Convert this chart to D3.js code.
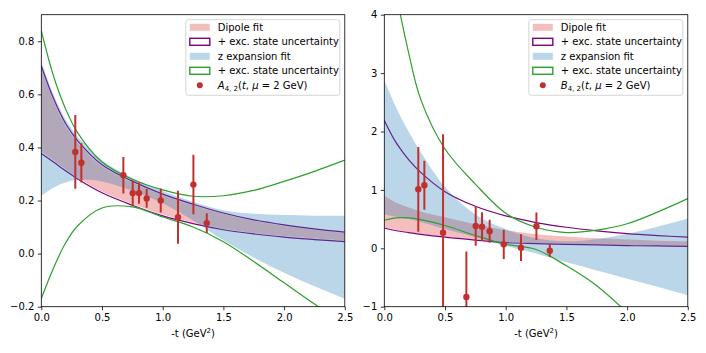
<!DOCTYPE html>
<html>
<head>
<meta charset="utf-8">
<script src="https://cdn.jsdelivr.net/npm/d3@7"></script>
<style>
body { margin: 0; background: #fff; }
svg { display: block; font-family: "DejaVu Sans", sans-serif; }
</style>
</head>
<body>
<svg id="chart" width="706" height="353"></svg>
<script>
// -t grid the fit curves were read at
const tGrid = [0, 0.1, 0.2, 0.3, 0.5, 0.75, 1.0, 1.25, 1.5, 1.75, 2.0, 2.25, 2.5];

// A_{4,2} fits
const aDipoleLo    = [0.385, 0.352, 0.318, 0.287, 0.234, 0.187, 0.147, 0.117, 0.094, 0.078, 0.066, 0.057, 0.049];
const aDipoleHi    = [0.695, 0.575, 0.482, 0.418, 0.329, 0.268, 0.220, 0.182, 0.150, 0.124, 0.105, 0.090, 0.078];
const aDipoleExcLo = [0.377, 0.345, 0.312, 0.281, 0.229, 0.182, 0.142, 0.113, 0.090, 0.074, 0.062, 0.053, 0.045];
const aDipoleExcHi = [0.707, 0.585, 0.490, 0.425, 0.335, 0.273, 0.224, 0.186, 0.153, 0.127, 0.108, 0.093, 0.081];
const aZLo         = [0.217, 0.248, 0.268, 0.277, 0.272, 0.237, 0.190, 0.125, 0.050, -0.015, -0.072, -0.123, -0.170];
const aZHi         = [0.725, 0.600, 0.505, 0.440, 0.352, 0.285, 0.236, 0.195, 0.163, 0.150, 0.145, 0.143, 0.143];
const aZExcLo      = [-0.169, -0.055, 0.040, 0.105, 0.172, 0.176, 0.138, 0.100, 0.045, -0.030, -0.110, -0.190, -0.270];
const aZExcHi      = [0.840, 0.670, 0.545, 0.455, 0.345, 0.280, 0.240, 0.216, 0.218, 0.238, 0.272, 0.310, 0.352];

// A_{4,2} lattice points
const aT   = [0.280, 0.330, 0.676, 0.753, 0.805, 0.868, 0.984, 1.126, 1.253, 1.363];
const aVal = [0.383, 0.342, 0.295, 0.228, 0.228, 0.208, 0.200, 0.137, 0.260, 0.115];
const aErr = [0.139, 0.074, 0.069, 0.047, 0.040, 0.035, 0.045, 0.100, 0.112, 0.037];

// B_{4,2} fits
const bDipoleLo    = [0.360, 0.315, 0.280, 0.250, 0.200, 0.150, 0.110, 0.090, 0.077, 0.066, 0.056, 0.050, 0.045];
const bDipoleHi    = [0.900, 0.780, 0.700, 0.630, 0.530, 0.410, 0.310, 0.240, 0.200, 0.170, 0.150, 0.130, 0.120];
const bDipoleExcLo = [0.348, 0.300, 0.270, 0.240, 0.190, 0.140, 0.097, 0.080, 0.068, 0.057, 0.046, 0.040, 0.034];
const bDipoleExcHi = [2.19, 1.80, 1.52, 1.30, 0.97, 0.72, 0.555, 0.44, 0.36, 0.30, 0.252, 0.218, 0.19];
const bZLo         = [0.58, 0.54, 0.50, 0.45, 0.33, 0.19, 0.04, -0.09, -0.24, -0.38, -0.52, -0.66, -0.805];
const bZHi         = [2.88, 2.40, 2.00, 1.65, 1.05, 0.58, 0.33, 0.17, 0.12, 0.16, 0.25, 0.37, 0.51];
const bZExcLo      = [0.48, 0.52, 0.52, 0.49, 0.39, 0.22, 0.07, -0.02, -0.30, -0.64, -1.10, -1.60, -2.10];
const bZExcHi      = [5.6, 4.35, 3.35, 2.55, 1.70, 1.10, 0.60, 0.36, 0.27, 0.31, 0.42, 0.62, 0.85];

// B_{4,2} lattice points
const bT   = [0.280, 0.330, 0.484, 0.676, 0.753, 0.805, 0.868, 0.984, 1.126, 1.253, 1.363];
const bVal = [1.010, 1.079, 0.268, -0.833, 0.382, 0.371, 0.291, 0.068, 0.011, 0.377, -0.040];
const bErr = [0.725, 0.420, 1.684, 0.780, 0.340, 0.245, 0.197, 0.250, 0.228, 0.234, 0.110];

// tick labels
const xTicks = [0, 0.5, 1.0, 1.5, 2.0, 2.5];
const aYTicks = [-0.2, 0, 0.2, 0.4, 0.6, 0.8];
const bYTicks = [-1, 0, 1, 2, 3, 4];
const legendLabels = ['Dipole fit', '+ exc. state uncertainty', 'z expansion fit', '+ exc. state uncertainty'];

const pinkFill = 'rgba(214,39,40,0.3)';
const blueFill = 'rgba(31,119,180,0.3)';
const purple = '#800080';
const green = '#2ca02c';
const red = '#c0302e';

const svg = d3.select('#chart');
const axTop = 14.7, axBottom = 306.7, axW = 303.5;

function rows(lo, hi) {
  return tGrid.map((t, i) => ({t, lo: lo[i], hi: hi[i]}));
}

function panel(p) {
  const x = d3.scaleLinear().domain([0, 2.5]).range([p.left, p.left + axW]);
  const y = d3.scaleLinear().domain(p.yDomain).range([axBottom, axTop]);
  const g = svg.append('g');

  g.append('clipPath').attr('id', 'clip' + p.id)
    .append('rect')
    .attr('x', p.left).attr('y', axTop)
    .attr('width', axW).attr('height', axBottom - axTop);
  const plot = g.append('g').attr('clip-path', `url(#clip${p.id})`);

  const area = d3.area()
    .x(d => x(d.t)).y0(d => y(d.lo)).y1(d => y(d.hi))
    .curve(d3.curveCatmullRom);
  const loLine = d3.line().x(d => x(d.t)).y(d => y(d.lo)).curve(d3.curveCatmullRom);
  const hiLine = d3.line().x(d => x(d.t)).y(d => y(d.hi)).curve(d3.curveCatmullRom);

  plot.append('path').datum(rows(p.dipLo, p.dipHi)).attr('d', area).attr('fill', pinkFill);
  const exc = rows(p.dipExcLo, p.dipExcHi);
  plot.append('path').datum(exc).attr('d', loLine).attr('fill', 'none').attr('stroke', purple).attr('stroke-width', 1.2);
  plot.append('path').datum(exc).attr('d', hiLine).attr('fill', 'none').attr('stroke', purple).attr('stroke-width', 1.2);

  plot.append('path').datum(rows(p.zLo, p.zHi)).attr('d', area).attr('fill', blueFill);
  const zexc = rows(p.zExcLo, p.zExcHi);
  plot.append('path').datum(zexc).attr('d', loLine).attr('fill', 'none').attr('stroke', green).attr('stroke-width', 1.2);
  plot.append('path').datum(zexc).attr('d', hiLine).attr('fill', 'none').attr('stroke', green).attr('stroke-width', 1.2);

  const pts = p.ts.map((t, i) => ({t, v: p.vals[i], e: p.errs[i]}));
  plot.selectAll('line.err').data(pts).join('line')
    .attr('class', 'err')
    .attr('x1', d => x(d.t)).attr('x2', d => x(d.t))
    .attr('y1', d => y(d.v - d.e)).attr('y2', d => y(d.v + d.e))
    .attr('stroke', red).attr('stroke-width', 2);
  plot.selectAll('circle').data(pts).join('circle')
    .attr('cx', d => x(d.t)).attr('cy', d => y(d.v)).attr('r', 3.2)
    .attr('fill', red);

  // axes
  const xAxis = g.append('g').attr('transform', `translate(0,${axBottom})`)
    .call(d3.axisBottom(x).tickValues(xTicks).tickFormat(d3.format('.1f')).tickSize(3.5).tickPadding(3.5));
  const yAxis = g.append('g').attr('transform', `translate(${p.left},0)`)
    .call(d3.axisLeft(y).tickValues(p.yTicks).tickFormat(p.yFormat).tickSize(3.5).tickPadding(3.5));
  [xAxis, yAxis].forEach(a => {
    a.select('.domain').remove();
    a.attr('font-family', null).attr('font-size', 10);
    a.selectAll('line').attr('stroke', '#000').attr('stroke-width', 0.8);
    a.selectAll('text').attr('fill', '#000');
  });
  g.append('rect')
    .attr('x', p.left).attr('y', axTop).attr('width', axW).attr('height', axBottom - axTop)
    .attr('fill', 'none').attr('stroke', '#000').attr('stroke-width', 0.8);

  const lab = g.append('text')
    .attr('x', p.left + axW / 2).attr('y', 337)
    .attr('text-anchor', 'middle').attr('font-size', 10);
  lab.append('tspan').text('-t (GeV');
  lab.append('tspan').attr('font-size', 7).attr('dy', -4).text('2');
  lab.append('tspan').attr('dy', 4).text(')');

  // legend
  const bx = p.left + axW - 5 - 154, by = axTop + 5;
  const lg = g.append('g');
  lg.append('rect').attr('x', bx).attr('y', by).attr('width', 154).attr('height', 75.6)
    .attr('rx', 2.5).attr('fill', 'rgba(255,255,255,0.8)').attr('stroke', '#cccccc').attr('stroke-width', 0.8);
  const rowY = i => by + 7.6 + i * 14.5;
  const hx = bx + 4;
  const handles = [
    {fill: pinkFill, stroke: 'none'},
    {fill: '#fff', stroke: purple},
    {fill: blueFill, stroke: 'none'},
    {fill: '#fff', stroke: green}
  ];
  handles.forEach((h, i) => {
    lg.append('rect').attr('x', hx).attr('y', rowY(i) - 3.5).attr('width', 20).attr('height', 7)
      .attr('fill', h.fill).attr('stroke', h.stroke).attr('stroke-width', 1.4);
    lg.append('text').attr('x', bx + 32).attr('y', rowY(i) + 3.6).attr('font-size', 10).text(legendLabels[i]);
  });
  lg.append('circle').attr('cx', hx + 10).attr('cy', rowY(4)).attr('r', 3).attr('fill', red);
  const mt = lg.append('text').attr('x', bx + 32).attr('y', rowY(4) + 3.6).attr('font-size', 10);
  mt.append('tspan').attr('font-style', 'italic').text(p.sym);
  mt.append('tspan').attr('font-size', 7).attr('dy', 2.5).text('4, 2');
  mt.append('tspan').attr('dy', -2.5).text('(');
  mt.append('tspan').attr('font-style', 'italic').text('t');
  mt.append('tspan').text(', ');
  mt.append('tspan').attr('font-style', 'italic').text('μ');
  mt.append('tspan').text(' = 2 GeV)');
}

panel({
  id: 'A', left: 41.3, yDomain: [-0.2, 0.9], yTicks: aYTicks, yFormat: d3.format('.1f'),
  dipLo: aDipoleLo, dipHi: aDipoleHi, dipExcLo: aDipoleExcLo, dipExcHi: aDipoleExcHi,
  zLo: aZLo, zHi: aZHi, zExcLo: aZExcLo, zExcHi: aZExcHi,
  ts: aT, vals: aVal, errs: aErr, sym: 'A'
});
panel({
  id: 'B', left: 384.3, yDomain: [-1, 4], yTicks: bYTicks, yFormat: d3.format('d'),
  dipLo: bDipoleLo, dipHi: bDipoleHi, dipExcLo: bDipoleExcLo, dipExcHi: bDipoleExcHi,
  zLo: bZLo, zHi: bZHi, zExcLo: bZExcLo, zExcHi: bZExcHi,
  ts: bT, vals: bVal, errs: bErr, sym: 'B'
});
</script>
</body>
</html>
